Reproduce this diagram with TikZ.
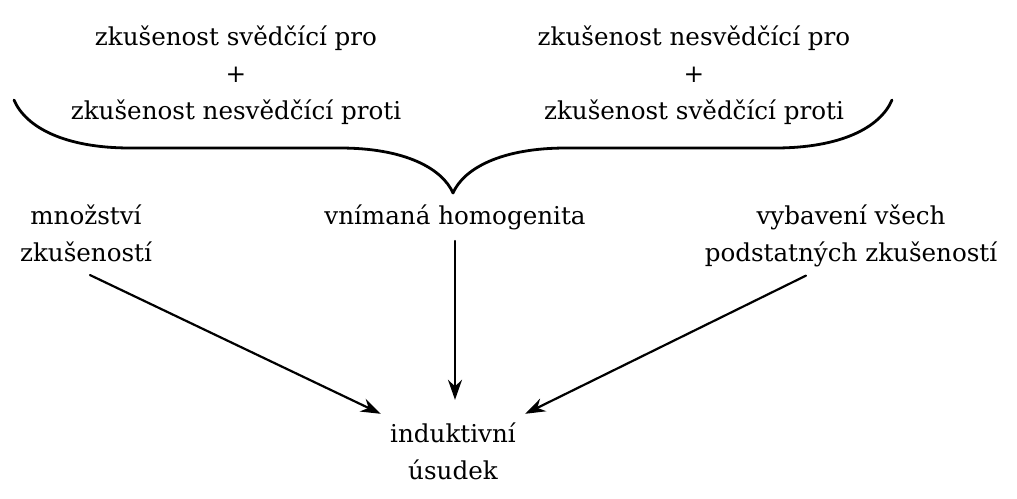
\documentclass[tikz,border=0pt]{standalone}
\usepackage{fontspec}
\setmainfont{DejaVu Serif}
\usetikzlibrary{arrows.meta}
\begin{document}
\begin{tikzpicture}[x=1pt, y=-1pt, line join=round, line cap=round, >={Stealth[length=20pt,width=14pt]},
		every node/.style={align=center, font=\fontsize{24.6}{37}\selectfont}]
	\useasboundingbox (0,0) rectangle (1017,498);
	% horní dvojice
	\node (levy) at (236,75) {zkušenost svědčící pro\\+\\zkušenost nesvědčící proti};
	\node (pravy) at (694,75) {zkušenost nesvědčící pro\\+\\zkušenost svědčící proti};
	% složená závorka
	\draw[line width=2.8pt] (14,100) .. controls (26,128) and (66,148) .. (130,148) -- (340,148)
		.. controls (404,148) and (442,168) .. (453,193)
		.. controls (464,168) and (502,148) .. (566,148) -- (775,148)
		.. controls (840,148) and (880,128) .. (892,100);
	% prostřední řada
	\node (mnozstvi) at (86,233) {množství\\zkušeností};
	\node[anchor=base] (homog) at (455,224) {vnímaná homogenita};
	\node (vybaveni) at (851,236) {vybavení všech\\podstatných zkušeností};
	% závěr
	\node[minimum width=144pt, minimum height=74pt] (usudek) at (453,451) {induktivní\\úsudek};
	% šipky
	\draw[->, line width=2.2pt] ([xshift=4pt,yshift=-10pt]mnozstvi.south) -- (usudek.north west);
	\draw[->, line width=2.2pt] ([yshift=-8pt]homog.south) -- ([xshift=2pt,yshift=14pt]usudek.north);
	\draw[->, line width=2.2pt] ([xshift=-45pt,yshift=-5pt]vybaveni.south) -- (usudek.north east);
\end{tikzpicture}
\end{document}
